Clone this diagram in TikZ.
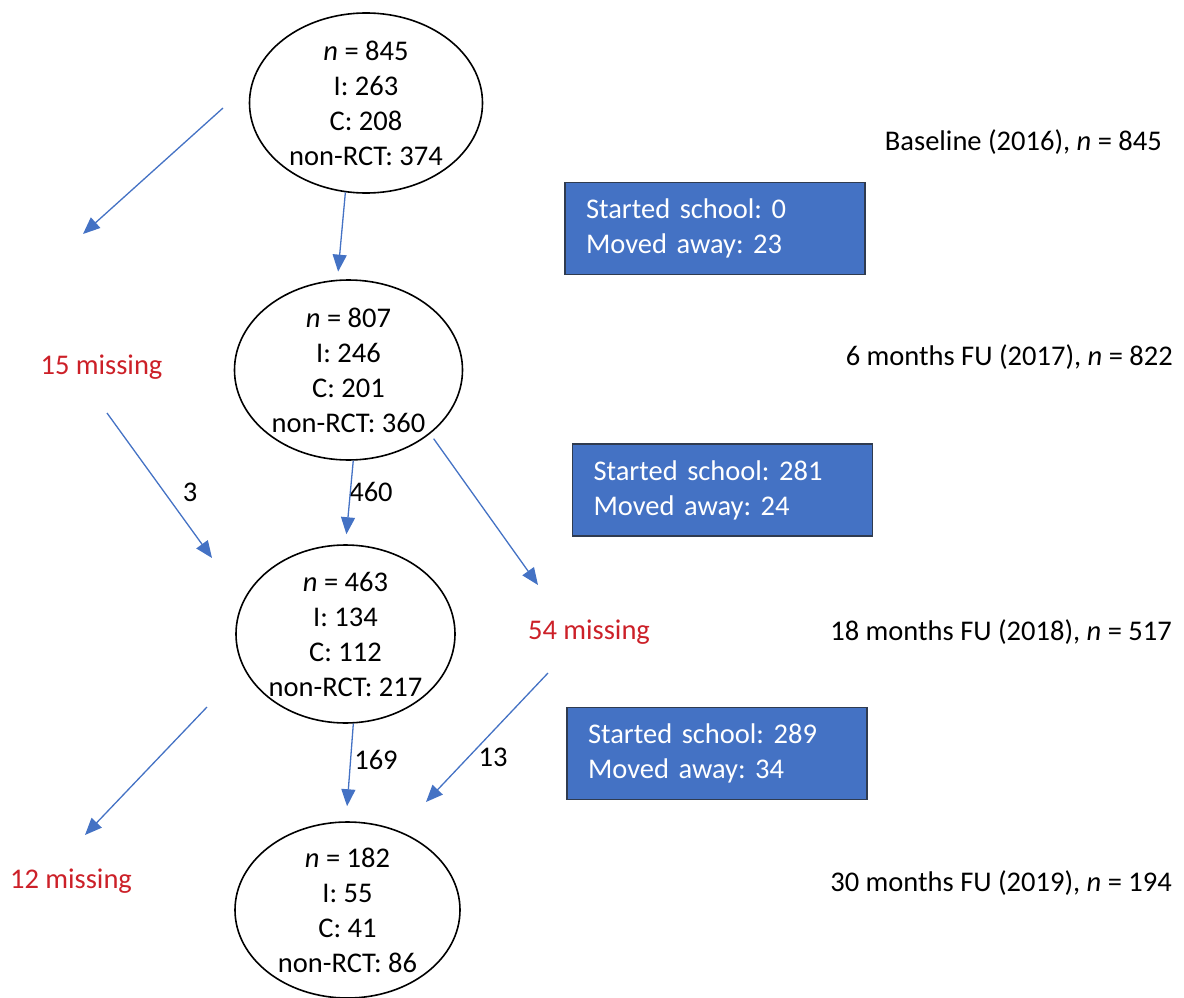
\documentclass[tikz,border=0pt]{standalone}
\usepackage{fontspec}
\setmainfont{Carlito}
\usetikzlibrary{shapes.geometric,arrows.meta}
\definecolor{flowblue}{RGB}{68,114,196}
\definecolor{boxedge}{RGB}{47,59,79}
\definecolor{missred}{RGB}{204,32,40}
\frenchspacing
\begin{document}
\begin{tikzpicture}[x=1pt,y=-1pt,
		font=\fontsize{28.5}{35}\selectfont,
		stage/.style={draw,ellipse,line width=1.6pt,inner sep=-15pt,align=center},
		infobox/.style={draw=boxedge,line width=1.5pt,fill=flowblue,text=white,align=left,text width=258pt,inner xsep=21pt,inner ysep=0pt,minimum height=92pt},
		flow/.style={draw=flowblue,line width=1.3pt,-{Triangle[length=17pt,width=14pt]}},
		missing/.style={text=missred,inner sep=0pt},
		count/.style={inner sep=0pt},
		wave/.style={anchor=east,inner sep=0pt}]
		\useasboundingbox (0,0) rectangle (1184,998);
		\node[stage,minimum width=233pt,minimum height=180pt] (e1) at (366,103) {\textit{n} = 845\\I: 263\\C: 208\\non-RCT: 374};
		\node[stage,minimum width=228pt,minimum height=180pt] (e2) at (348.5,370) {\textit{n} = 807\\I: 246\\C: 201\\non-RCT: 360};
		\node[stage,minimum width=219pt,minimum height=178pt] (e3) at (345.5,634) {\textit{n} = 463\\I: 134\\C: 112\\non-RCT: 217};
		\node[stage,minimum width=225pt,minimum height=176pt] (e4) at (347.5,910) {\textit{n} = 182\\I: 55\\C: 41\\non-RCT: 86};
		\node[infobox] (b1) at (715,228.5) {Started school: 0\\Moved away: 23};
		\node[infobox] (b2) at (722.5,490) {Started school: 281\\Moved away: 24};
		\node[infobox] (b3) at (717,753.5) {Started school: 289\\Moved away: 34};
		\node[wave] (t0) at (1162,142) {Baseline (2016), \textit{n} = 845};
		\node[wave] (t1) at (1173,357) {6 months FU (2017), \textit{n} = 822};
		\node[wave] (t2) at (1172,632) {18 months FU (2018), \textit{n} = 517};
		\node[wave] (t3) at (1172,883) {30 months FU (2019), \textit{n} = 194};
		\node[missing] (m15) at (101.5,367) {15 missing};
		\node[missing] (m54) at (589,632) {54 missing};
		\node[missing] (m12) at (71,881) {12 missing};
		\node[count] (c3) at (190,492) {3};
		\node[count] (c460) at (371,492) {460};
		\node[count] (c13) at (493,757) {13};
		\node[count] (c169) at (376,760) {169};
		\coordinate (a1s) at (223,108);
		\coordinate (a1e) at (83,234);
		\coordinate (a3s) at (107,413);
		\coordinate (a3e) at (212,558);
		\coordinate (a5e) at (538,585);
		\coordinate (a6s) at (548,673);
		\coordinate (a6e) at (426,802);
		\coordinate (a8s) at (207,707);
		\coordinate (a8e) at (85,835);
		\draw[flow] (a1s) -- (a1e);
		\draw[flow,shorten >=8pt] (e1.257) -- (e2.97);
		\draw[flow] (a3s) -- (a3e);
		\draw[flow,shorten >=10pt] (e2.273) -- (e3.90);
		\draw[flow,shorten <=6pt] (e2.-38.5) -- (a5e);
		\draw[flow] (a6s) -- (a6e);
		\draw[flow,shorten >=15pt] (e3.275.5) -- (e4.91);
		\draw[flow] (a8s) -- (a8e);
	\end{tikzpicture}
\end{document}
